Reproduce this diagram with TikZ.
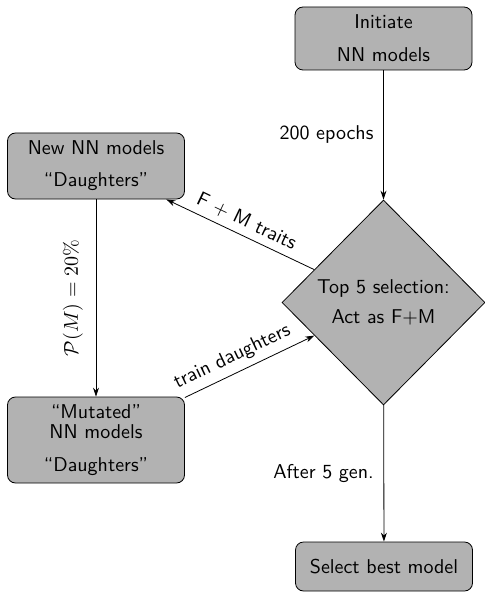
\documentclass[tikz,border=0pt]{standalone}
\usetikzlibrary{shapes.geometric,arrows.meta}
\begin{document}
\begin{tikzpicture}[x=0.5pt,y=-0.5pt,
  font=\sffamily,
  boxnode/.style={draw, rectangle, rounded corners=4pt, fill=gray!60, align=center, minimum width=88.5pt, inner sep=3pt},
  decnode/.style={draw, diamond, fill=gray!60, align=center, minimum width=101.5pt, minimum height=102.5pt, inner sep=0pt},
  flow/.style={-{Stealth[length=4.5pt,width=3pt]}}]
\useasboundingbox (0,0) rectangle (485,593);
\node[boxnode, minimum height=31.5pt] (init) at (383.5,38.5) {Initiate\\[4.5pt]NN models};
\node[decnode] (dia) at (383.5,302.5) {Top 5 selection:\\[3pt]Act as F+M};
\node[boxnode, minimum height=33pt] (newnn) at (96,166) {New NN models\\[4pt]``Daughters''};
\node[boxnode, minimum height=43pt] (mut) at (96,440) {``Mutated''\\[-2pt]NN models\\[4.5pt]``Daughters''};
\node[boxnode, minimum height=24.5pt] (sel) at (384,566.5) {Select best model};
\draw[flow] (init) -- node[midway, left, xshift=-1.5pt] {200 epochs} (dia);
\draw[flow] (dia) -- node[midway, left, xshift=-1.5pt] {After 5 gen.} (sel);
\draw[flow] (newnn) -- node[midway, rotate=90, anchor=south, yshift=3pt] {$\mathcal{P}(M) = 20\%$} (mut);
\draw[flow, {Stealth[length=4.5pt,width=3pt]}-] (newnn) -- node[midway, sloped, above] {F + M traits} (dia);
\draw[flow] (mut) -- node[pos=0.42, sloped, above] {train daughters} (dia);
\end{tikzpicture}
\end{document}
